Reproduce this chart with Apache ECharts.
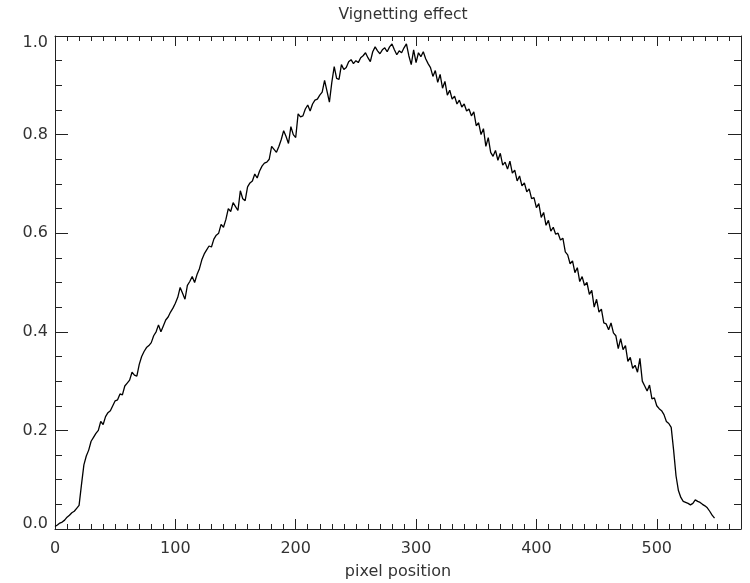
<!DOCTYPE html>
<html>
<head>
<meta charset="utf-8">
<title>Vignetting effect</title>
<script src="https://cdn.jsdelivr.net/npm/echarts@6/dist/echarts.min.js"></script>
<style>
  html, body { margin: 0; padding: 0; background: #fff; }
  #grafico { width: 750px; height: 583px; }
</style>
</head>
<body>
<div id="grafico"></div>
<script>
// sampled every 2 pixels, starting at pixel 0
const passoPixel = 2;
const vignetting = [
  0.005, 0.008, 0.012, 0.014, 0.018, 0.024, 0.028, 0.033, 0.036, 0.042,
  0.048, 0.090, 0.130, 0.148, 0.160, 0.178, 0.186, 0.194, 0.200, 0.218,
  0.212, 0.228, 0.236, 0.240, 0.250, 0.260, 0.262, 0.274, 0.272, 0.290,
  0.296, 0.302, 0.318, 0.312, 0.310, 0.334, 0.350, 0.360, 0.368, 0.372,
  0.378, 0.392, 0.400, 0.414, 0.400, 0.412, 0.424, 0.430, 0.440, 0.448,
  0.458, 0.470, 0.490, 0.478, 0.466, 0.494, 0.502, 0.512, 0.500, 0.516,
  0.528, 0.546, 0.558, 0.566, 0.574, 0.572, 0.588, 0.596, 0.600, 0.618,
  0.612, 0.628, 0.650, 0.644, 0.662, 0.654, 0.646, 0.686, 0.670, 0.666,
  0.694, 0.702, 0.706, 0.720, 0.712, 0.726, 0.736, 0.742, 0.744, 0.750,
  0.776, 0.770, 0.764, 0.776, 0.790, 0.808, 0.796, 0.782, 0.816, 0.800,
  0.794, 0.842, 0.836, 0.838, 0.852, 0.860, 0.848, 0.862, 0.870, 0.872,
  0.880, 0.886, 0.910, 0.888, 0.866, 0.906, 0.938, 0.914, 0.912, 0.942,
  0.932, 0.936, 0.948, 0.952, 0.944, 0.950, 0.946, 0.956, 0.960, 0.966,
  0.956, 0.948, 0.968, 0.978, 0.970, 0.964, 0.972, 0.976, 0.968, 0.978,
  0.984, 0.972, 0.962, 0.970, 0.966, 0.976, 0.984, 0.960, 0.942, 0.972,
  0.946, 0.966, 0.958, 0.968, 0.954, 0.944, 0.936, 0.918, 0.930, 0.906,
  0.922, 0.894, 0.908, 0.880, 0.890, 0.872, 0.878, 0.862, 0.870, 0.856,
  0.862, 0.848, 0.852, 0.838, 0.846, 0.818, 0.824, 0.800, 0.812, 0.776,
  0.794, 0.764, 0.756, 0.768, 0.748, 0.762, 0.738, 0.744, 0.730, 0.746,
  0.722, 0.728, 0.706, 0.716, 0.696, 0.702, 0.684, 0.690, 0.670, 0.672,
  0.652, 0.660, 0.632, 0.642, 0.616, 0.626, 0.604, 0.612, 0.598, 0.600,
  0.586, 0.590, 0.562, 0.556, 0.538, 0.544, 0.520, 0.530, 0.502, 0.512,
  0.494, 0.500, 0.476, 0.484, 0.450, 0.466, 0.440, 0.446, 0.418, 0.416,
  0.404, 0.418, 0.398, 0.392, 0.366, 0.386, 0.364, 0.372, 0.340, 0.348,
  0.326, 0.332, 0.318, 0.346, 0.300, 0.290, 0.280, 0.292, 0.264, 0.266,
  0.250, 0.244, 0.240, 0.232, 0.218, 0.214, 0.206, 0.160, 0.108, 0.078,
  0.064, 0.056, 0.054, 0.052, 0.049, 0.052, 0.059, 0.056, 0.054, 0.050,
  0.047, 0.043, 0.036, 0.028, 0.022
];

const eixoX = { min: 0, max: 570, intervalo: 100, intervaloMenor: 10 };
const eixoY = { min: 0, max: 1, intervalo: 0.2 };

const pontos = vignetting.map((v, i) => [i * passoPixel, v]);

const fonte = 'DejaVu Sans';
const corEixo = '#222';

const myChart = echarts.init(document.getElementById('grafico'), null, { renderer: 'canvas' });

// eixo base, copiado para as posicoes espelhadas
function eixoXBase(posicao, intervalo, tamanho, mostraLinha, mostraRotulo) {
  return {
    type: 'value',
    position: posicao,
    min: eixoX.min,
    max: eixoX.max,
    interval: intervalo,
    axisLine: { show: mostraLinha, onZero: false, lineStyle: { color: corEixo, width: 1 } },
    axisTick: { show: true, inside: true, length: tamanho, lineStyle: { color: corEixo, width: 1 } },
    axisLabel: {
      show: mostraRotulo,
      showMaxLabel: false,
      margin: 12,
      color: '#333',
      fontFamily: fonte,
      fontSize: 16,
    },
    splitLine: { show: false },
  };
}

function eixoYBase(posicao, mostraRotulo) {
  return {
    type: 'value',
    position: posicao,
    min: eixoY.min,
    max: eixoY.max,
    interval: eixoY.intervalo,
    axisLine: { show: true, onZero: false, lineStyle: { color: corEixo, width: 1 } },
    axisTick: { show: true, inside: true, length: 13, lineStyle: { color: corEixo, width: 1 } },
    minorTick: { show: true, splitNumber: 4, length: 7, lineStyle: { color: corEixo, width: 1 } },
    axisLabel: {
      show: mostraRotulo,
      margin: 7,
      color: '#333',
      fontFamily: fonte,
      fontSize: 16,
      formatter: (v) => {
        const t = v.toFixed(1);
        if (v >= 0.999) return '{topo|' + t + '}';
        if (v <= 0.001) return '{base|' + t + '}';
        return t;
      },
      rich: {
        topo: { fontFamily: fonte, fontSize: 16, color: '#333', padding: [14, 0, 0, 0] },
        base: { fontFamily: fonte, fontSize: 16, color: '#333', padding: [0, 0, 10, 0] },
      },
    },
    splitLine: { show: false },
  };
}

const eixoPrincipal = eixoXBase('bottom', eixoX.intervalo, 10, true, true);
eixoPrincipal.name = 'pixel position';
eixoPrincipal.nameLocation = 'middle';
eixoPrincipal.nameGap = 35;
eixoPrincipal.nameTextStyle = { color: '#333', fontFamily: fonte, fontSize: 16 };

const option = {
  backgroundColor: '#ffffff',
  animation: false,
  title: {
    text: 'Vignetting effect',
    left: 398,
    textAlign: 'center',
    top: 2,
    textStyle: { color: '#333', fontFamily: fonte, fontSize: 15.5, fontWeight: 'normal' },
  },
  grid: { left: 55, right: 9, top: 36, bottom: 54, containLabel: false, outerBoundsMode: 'none' },
  xAxis: [
    eixoPrincipal,
    eixoXBase('top', eixoX.intervalo, 10, true, false),
    eixoXBase('bottom', eixoX.intervaloMenor, 5, false, false),
    eixoXBase('top', eixoX.intervaloMenor, 5, false, false),
  ],
  yAxis: [
    eixoYBase('left', true),
    eixoYBase('right', false),
  ],
  series: [
    {
      name: 'Vignetting',
      type: 'line',
      xAxisIndex: 0,
      yAxisIndex: 0,
      data: pontos,
      showSymbol: false,
      symbol: 'none',
      lineStyle: { color: '#000', width: 1.3 },
    },
  ],
};

myChart.setOption(option);
</script>
</body>
</html>
